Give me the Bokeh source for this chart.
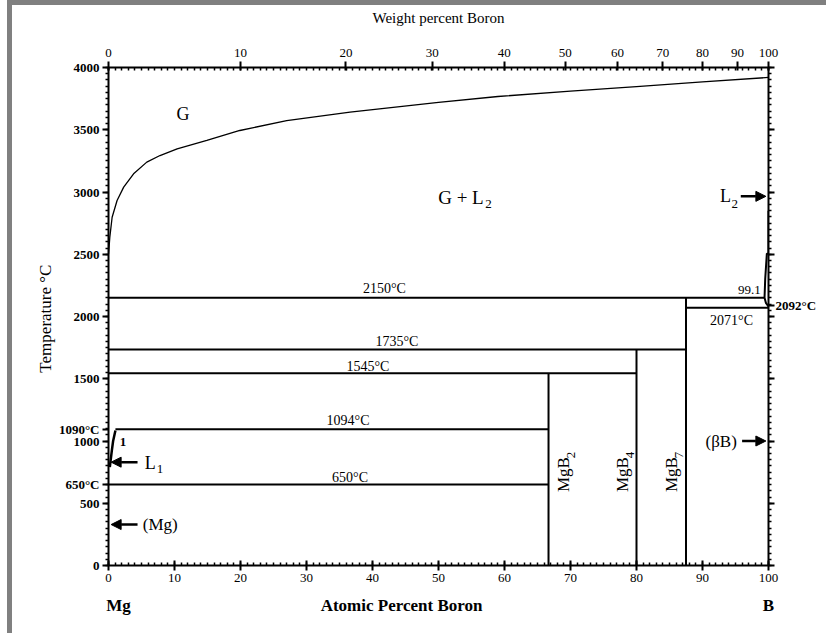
import math
from bokeh.plotting import figure
from bokeh.models import (Range1d, LinearAxis, FixedTicker, Label, Arrow, NormalHead, Div)
from bokeh.layouts import row
from bokeh.embed import file_html
from bokeh.resources import INLINE

# ---------------- data ----------------
# gas / liquid boundary (atomic % B, temperature in C)
gas_x = [0, 0.05, 0.2, 0.55, 1.3, 2.3, 3.8, 5.8, 7.8, 10.4, 14.9, 19.9, 27, 36.6, 50, 59, 70, 80, 90, 100]
gas_T = [2500, 2530, 2637, 2797, 2932, 3039, 3146, 3240, 3293, 3347, 3414, 3494, 3574, 3641, 3720, 3767, 3810, 3847, 3885, 3920]
# Mg-rich liquidus (L1)
l1_x = [0.2, 0.5, 0.7, 1.05]
l1_T = [790, 920, 1000, 1085]
# B-rich liquidus (L2)
l2_x = [100, 100, 99.75, 99.5, 99.4, 99.6, 100]
l2_T = [2850, 2505, 2505, 2300, 2150, 2110, 2080]
# invariant (horizontal) lines
iso_T = [2150, 2071, 1735, 1545, 1094, 650]
iso_x0 = [0, 87.5, 0, 0, 1.05, 0]
iso_x1 = [99.4, 100, 87.5, 80, 66.67, 66.67]
iso_text = ["2150°C", "2071°C", "1735°C", "1545°C", "1094°C", "650°C"]
# compounds (vertical lines)
comp_base = ["MgB", "MgB", "MgB"]
comp_sub = ["2", "4", "7"]
comp_x = [66.67, 80, 87.5]
comp_top = [1545, 1735, 2150]
# axis ticks
at_ticks = list(range(0, 101, 10))
temp_ticks = list(range(0, 4001, 500))
wt_ticks = [0, 10, 20, 30, 40, 50, 60, 70, 80, 90, 100]
M_B, M_MG = 10.811, 24.305

SERIF = "Liberation Serif"


def wt_to_at(w):
    nb = w / M_B
    nm = (100 - w) / M_MG
    return 100.0 * nb / (nb + nm)


p = figure(width=819, height=625, x_range=Range1d(0, 100), y_range=Range1d(0, 4000),
           output_backend="svg", toolbar_location=None,
           x_axis_location=None, y_axis_location=None,
           min_border_left=108, min_border_right=48, min_border_top=67, min_border_bottom=60)
p.xgrid.visible = False
p.ygrid.visible = False
p.outline_line_color = None
p.background_fill_color = "white"
p.border_fill_color = "white"


# ---------------- axes ----------------
def style_axis(ax):
    ax.axis_line_width = 2
    ax.axis_line_color = "black"
    ax.major_tick_line_width = 2
    ax.minor_tick_line_width = 1.5
    ax.major_label_text_font = SERIF
    ax.major_label_text_color = "black"
    ax.axis_label_text_font = SERIF
    ax.axis_label_text_font_style = "normal"
    ax.axis_label_text_color = "black"


bottom = LinearAxis(ticker=FixedTicker(ticks=at_ticks, minor_ticks=list(range(0, 101))))
style_axis(bottom)
bottom.major_tick_in = 5
bottom.major_tick_out = 5
bottom.minor_tick_in = 3
bottom.minor_tick_out = 0
bottom.major_label_text_font_size = "13px"
bottom.major_label_standoff = 3
p.add_layout(bottom, "below")

# second row below: element names and axis title
name_pos = [1.5, 44.4, 99.99]
name_txt = ["Mg", "Atomic Percent Boron", "B"]
names = LinearAxis(ticker=FixedTicker(ticks=name_pos, minor_ticks=[]),
                   major_label_overrides=dict(zip(name_pos, name_txt)))
style_axis(names)
names.axis_line_color = None
names.major_tick_line_color = None
names.minor_tick_line_color = None
names.major_tick_out = 0
names.major_tick_in = 0
names.major_label_standoff = 11
names.major_label_text_font_size = "17px"
names.major_label_text_font_style = "bold"
p.add_layout(names, "below")

left_ticks = temp_ticks + [650, 1090]
left = LinearAxis(ticker=FixedTicker(ticks=left_ticks, minor_ticks=list(range(0, 4001, 50))),
                  major_label_overrides={650: "650°C", 1090: "1090°C"},
                  axis_label="Temperature  °C")
style_axis(left)
left.major_tick_in = 0
left.major_tick_out = 6
left.minor_tick_in = 0
left.minor_tick_out = 3
left.major_label_text_font_size = "13px"
left.major_label_text_font_style = "bold"
left.major_label_standoff = 3
left.axis_label_text_font_size = "17px"
left.axis_label_standoff = 1
p.add_layout(left, "left")

wt_pos = [wt_to_at(w) for w in wt_ticks]
top = LinearAxis(ticker=FixedTicker(ticks=wt_pos, minor_ticks=list(range(0, 101))),
                 major_label_overrides={pos: str(w) for pos, w in zip(wt_pos, wt_ticks)},
                 axis_label="Weight percent Boron")
style_axis(top)
top.major_tick_in = 3
top.major_tick_out = 6
top.minor_tick_in = 3
top.minor_tick_out = 0
top.major_label_text_font_size = "13px"
top.major_label_standoff = 5
top.axis_label_text_font_size = "15px"
top.axis_label_standoff = 20
p.add_layout(top, "above")

right_ticks = temp_ticks + [2092]
right_over = {t: "" for t in temp_ticks}
right_over[2092] = "2092°C"
right = LinearAxis(ticker=FixedTicker(ticks=right_ticks, minor_ticks=list(range(0, 4001, 50))),
                   major_label_overrides=right_over)
style_axis(right)
right.major_tick_in = 0
right.major_tick_out = 6
right.minor_tick_in = 0
right.minor_tick_out = 3
right.major_label_standoff = 1
right.major_label_text_font_size = "13px"
right.major_label_text_font_style = "bold"
p.add_layout(right, "right")

# ---------------- phase boundaries ----------------
p.line(gas_x, gas_T, line_color="black", line_width=1.3)
p.line(l1_x, l1_T, line_color="black", line_width=2.5)
p.line(l2_x, l2_T, line_color="black", line_width=2)
p.segment(x0=iso_x0, y0=iso_T, x1=iso_x1, y1=iso_T, line_color="black", line_width=2)
p.segment(x0=comp_x, y0=[0] * len(comp_x), x1=comp_x, y1=comp_top, line_color="black", line_width=2)


# ---------------- texts ----------------
def txt(x, y, text, size, bold=False, align="center", baseline="middle", angle=0.0):
    p.add_layout(Label(x=x, y=y, text=text, text_font=SERIF, text_font_size=f"{size}px",
                       text_font_style="bold" if bold else "normal", text_color="black",
                       text_align=align, text_baseline=baseline, angle=angle))


iso_lx = [41.8, 94.4, 43.7, 39.3, 36.3, 36.6]
iso_ly = [2225, 1968, 1799, 1598, 1165, 707]
for x, y, t in zip(iso_lx, iso_ly, iso_text):
    txt(x, y, t, 14)

txt(97.1, 2212, "99.1", 13)
txt(2.2, 990, "1", 13, bold=True)

txt(11.3, 3630, "G", 18)
txt(53.4, 2956, "G + L", 19)
txt(57.1, 2905, "2", 13, align="left")

# compound labels (rotated)
comp_lx = [69.0, 77.9, 85.3]
for x, b, s in zip(comp_lx, comp_base, comp_sub):
    txt(x, 590, b, 17, align="left", angle=math.pi / 2)
    txt(x + 1.1, 862, s, 13, align="left", angle=math.pi / 2)

# arrows and phase names near the axes
head = dict(size=10, fill_color="black", line_color="black")
p.add_layout(Arrow(end=NormalHead(**head), x_start=4.4, y_start=830, x_end=0.4, y_end=830,
                   line_width=2.5, line_color="black"))
txt(5.5, 822, "L", 18, align="left")
txt(7.3, 775, "1", 13, align="left")

p.add_layout(Arrow(end=NormalHead(**head), x_start=4.4, y_start=329, x_end=0.4, y_end=329,
                   line_width=2.5, line_color="black"))
txt(5.2, 329, "(Mg)", 17, align="left")

p.add_layout(Arrow(end=NormalHead(**head), x_start=95.8, y_start=2965, x_end=99.6, y_end=2965,
                   line_width=2.5, line_color="black"))
txt(94.3, 2970, "L", 18, align="right")
txt(94.4, 2905, "2", 13, align="left")

p.add_layout(Arrow(end=NormalHead(**head), x_start=96.0, y_start=1000, x_end=99.6, y_end=1000,
                   line_width=2.5, line_color="black"))
txt(95.2, 1000, "(βB)", 17, align="right")

frame = Div(text='<div style="position:fixed;top:0;left:7px;width:830px;height:5px;background:#808080"></div>'
                 '<div style="position:fixed;top:0;left:7px;width:5px;height:640px;background:#808080"></div>',
            width=2, height=2)

layout = row(p, frame)
open("out.html", "w").write(file_html(layout, INLINE))
